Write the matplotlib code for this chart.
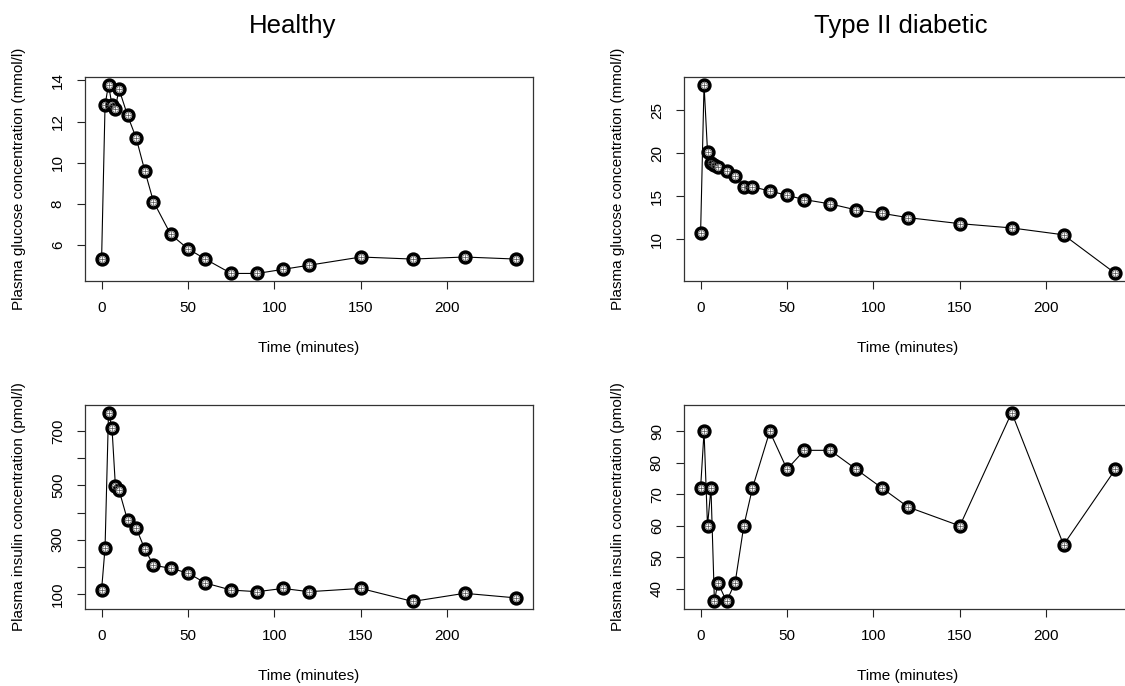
import matplotlib
matplotlib.use("Agg")
import matplotlib.pyplot as plt

plt.rcParams["font.family"] = ["Liberation Sans", "DejaVu Sans"]

# sampling times (minutes)
time_min = [0, 2, 4, 6, 8, 10, 15, 20, 25, 30, 40, 50, 60, 75, 90, 105, 120, 150, 180, 210, 240]

healthy_glucose = [5.3, 12.8, 13.8, 12.8, 12.6, 13.6, 12.3, 11.2, 9.6, 8.1, 6.5,
                   5.8, 5.3, 4.6, 4.6, 4.8, 5.0, 5.4, 5.3, 5.4, 5.3]
healthy_insulin = [115, 270, 769, 713, 497, 485, 372, 343, 265, 206, 194,
                   177, 140, 114, 108, 120, 108, 120, 72, 102, 85]
diabetic_glucose = [10.7, 28.0, 20.2, 18.9, 18.6, 18.4, 17.9, 17.4, 16.1, 16.1, 15.6,
                    15.1, 14.6, 14.1, 13.4, 13.0, 12.5, 11.8, 11.3, 10.5, 6.0]
diabetic_insulin = [72, 90, 60, 72, 36, 42, 36, 42, 60, 72, 90,
                    78, 84, 84, 78, 72, 66, 60, 96, 54, 78]

x_ticks = [0, 50, 100, 150, 200]
healthy_glucose_ticks = [6, 8, 10, 12, 14]
healthy_insulin_ticks = [100, 200, 300, 400, 500, 600, 700]
healthy_insulin_labels = ["100", "", "300", "", "500", "", "700"]
diabetic_glucose_ticks = [10, 15, 20, 25]
diabetic_insulin_ticks = [40, 50, 60, 70, 80, 90]

col_titles = ["Healthy", "Type II diabetic"]
glucose_label = "Plasma glucose concentration (mmol/l)"
insulin_label = "Plasma insulin concentration (pmol/l)"
time_label = "Time (minutes)"

W, H = 1125, 686
fig = plt.figure(figsize=(W / 100, H / 100), dpi=100)


def r_range(vals):
    # R-style 4% axis expansion
    lo, hi = min(vals), max(vals)
    pad = 0.04 * (hi - lo)
    return lo - pad, hi + pad


def panel(left, top, width, height, y, yticks, ylabels, ylabel):
    ax = fig.add_axes([left / W, 1 - (top + height) / H, width / W, height / H])
    ax.plot(time_min, y, color="black", lw=0.8, zorder=2)
    ax.plot(time_min, y, ls="none", marker="o", ms=7.8, mfc="white",
            mec="black", mew=2.5, zorder=3)
    ax.plot(time_min, y, ls="none", marker="o", ms=4.2, mfc="none",
            mec="#555555", mew=0.5, zorder=4)
    ax.plot(time_min, y, ls="none", marker="+", ms=4.2, mec="#555555",
            mew=0.5, zorder=4)
    ax.set_xlim(r_range(time_min))
    ax.set_ylim(r_range(y))
    ax.set_xticks(x_ticks)
    ax.set_yticks(yticks)
    ax.set_yticklabels(ylabels if ylabels else [str(t) for t in yticks],
                       rotation=90, va="center")
    ax.tick_params(direction="out", length=5.5, width=0.8, labelsize=11,
                   color="#222222")
    ax.tick_params(axis="x", pad=9)
    ax.tick_params(axis="y", pad=9)
    for s in ax.spines.values():
        s.set_linewidth(0.9)
        s.set_color("#333333")
    ax.set_xlabel(time_label, fontsize=11, va="center")
    ax.xaxis.set_label_coords(0.5, -67 / height)
    ax.set_ylabel(ylabel, fontsize=11, va="center")
    ax.yaxis.set_label_coords(-66 / width, 0.5)
    return ax


pw = 448
ph = 204
ax1 = panel(85, 77, pw, ph, healthy_glucose, healthy_glucose_ticks, None, glucose_label)
ax2 = panel(684, 77, pw, ph, diabetic_glucose, diabetic_glucose_ticks, None, glucose_label)
ax3 = panel(85, 405, pw, ph, healthy_insulin, healthy_insulin_ticks,
            healthy_insulin_labels, insulin_label)
ax4 = panel(684, 405, pw, ph, diabetic_insulin, diabetic_insulin_ticks, None, insulin_label)

fig.text(293 / W, 1 - 26 / H, col_titles[0], ha="center", va="center", fontsize=18.5)
fig.text(901 / W, 1 - 26 / H, col_titles[1], ha="center", va="center", fontsize=18.5)

fig.savefig("out.png", dpi=100, facecolor="white")
